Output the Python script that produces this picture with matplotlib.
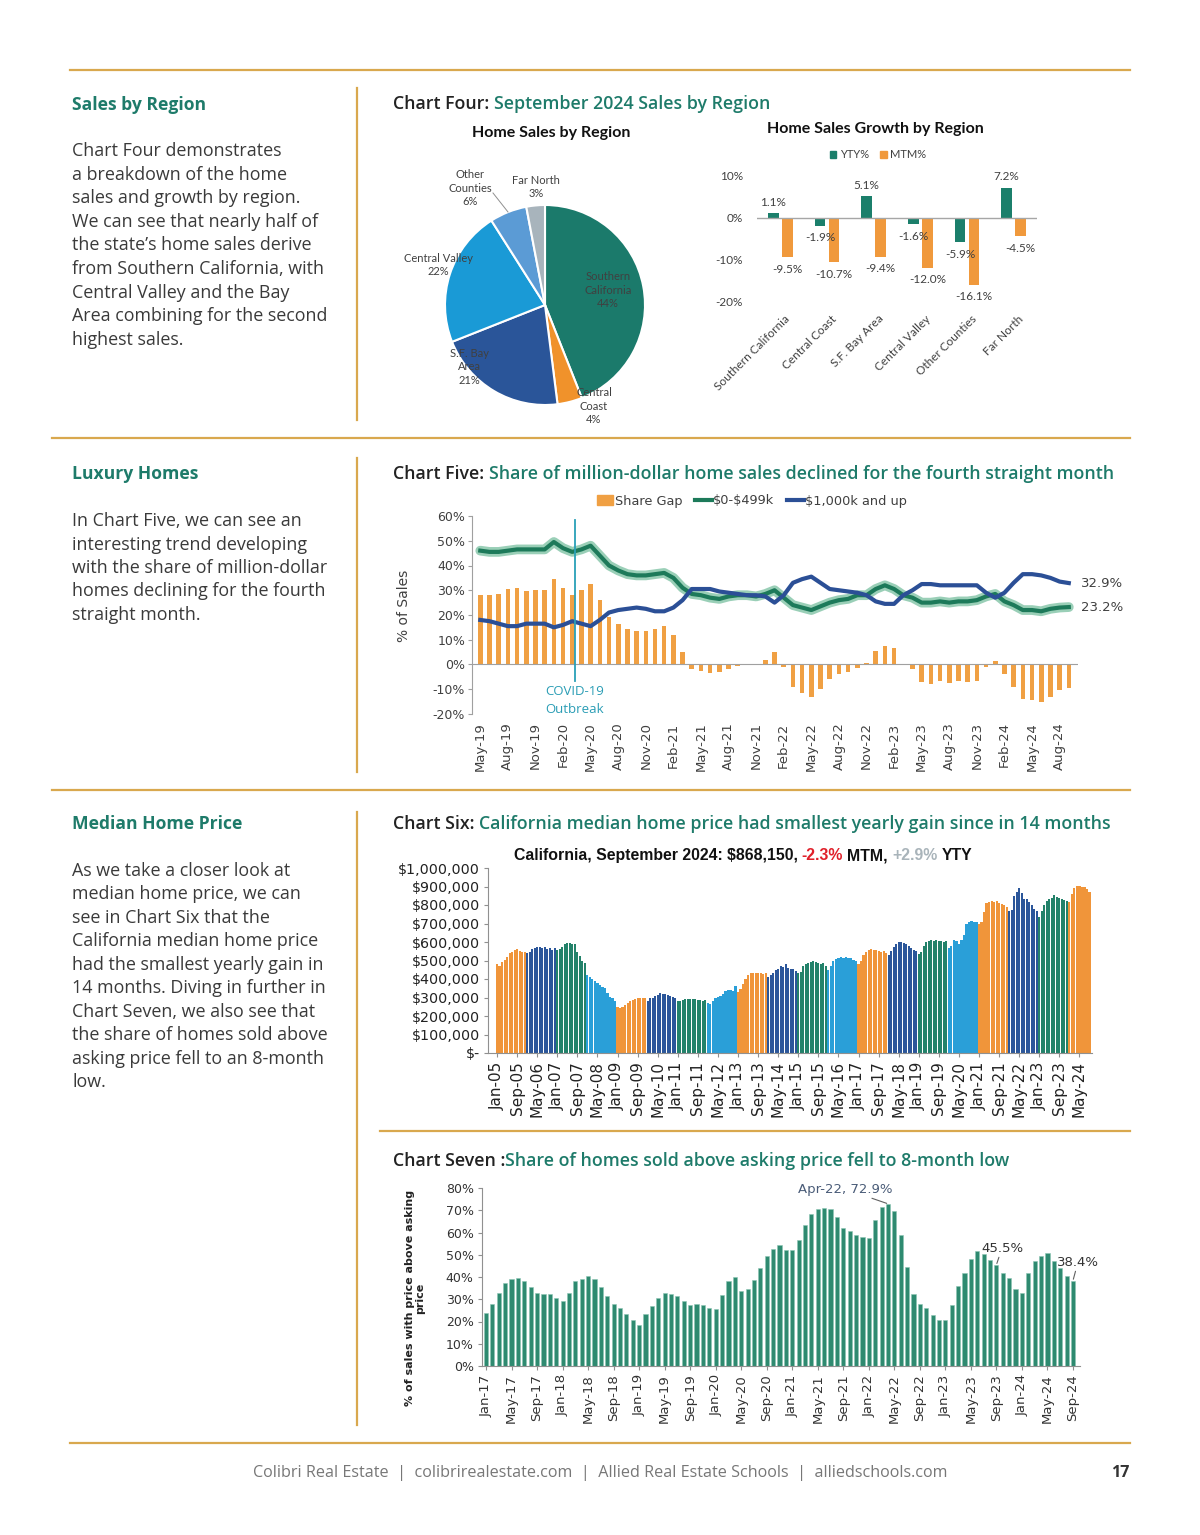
import matplotlib
matplotlib.use('Agg')
import matplotlib.pyplot as plt
import numpy as np
import pandas as pd
from matplotlib.patches import Patch
from matplotlib.lines import Line2D

# ---------------- data ----------------
regions = ['Southern California', 'Central Coast', 'S.F. Bay Area',
           'Central Valley', 'Other Counties', 'Far North']
region_share = [44, 4, 21, 22, 6, 3]
yty_pct = [1.1, -1.9, 5.1, -1.6, -5.9, 7.2]
mtm_pct = [-9.5, -10.7, -9.4, -12.0, -16.1, -4.5]

# chart five, monthly May-19 .. Sep-24
share_gap = [28, 28, 28.5, 30.5, 31, 29.5, 30, 30,
             34.5, 31, 28, 30, 32.5, 26, 19, 16.5, 14.5, 13.5, 13.5, 14.5,
             15.5, 12, 5, -2, -2.5, -3.5, -3, -2, -0.5, 0, -0.3, 2,
             5, -1, -9, -11.5, -13, -10, -6, -4, -3, -1.5, 0.5, 5.5,
             7.5, 6.5, 0, -2, -7, -8, -6.5, -7.5, -6.5, -7, -6.5, -1,
             1.5, -4, -9, -14, -14.5, -15, -13, -10.5, -9.5]
low_tier = [46, 45.5, 45.5, 46, 46.5, 46.5, 46.5, 46.5,
            49.5, 47, 45.5, 46.5, 48, 44, 40, 38, 36.5, 36, 36, 36.5,
            37, 35, 31, 28.5, 28, 27, 26.5, 27.5, 28, 28, 27.5, 28.5,
            30, 27, 24, 23, 22, 23.5, 25, 26, 26.5, 28, 28, 30.5,
            32, 30.5, 28, 27, 25, 25, 25.5, 25, 25.5, 25.5, 26, 27.5,
            28.5, 25.5, 24, 22, 22, 21.5, 22.5, 23, 23.2]
high_tier = [18, 17.5, 16.5, 15.5, 15.5, 16.5, 16.5, 16.5,
             15, 16, 17.5, 16.5, 15.5, 18, 21, 22, 22.5, 23, 22.5, 21.5,
             21.5, 23, 26, 30.5, 30.5, 30.5, 29.5, 29, 28.5, 28, 28, 27.5,
             25, 28, 33, 34.5, 35.5, 33, 30.5, 30, 29.5, 29, 28, 25.5,
             24.5, 24.5, 28, 30, 32.5, 32.5, 32, 32, 32, 32, 32, 29,
             27, 29, 33, 36.5, 36.5, 36, 35, 33.5, 32.9]

# chart six, median price ($k) by year, Jan-05 .. Sep-24
price_k = [
    [480, 470, 490, 505, 520, 540, 545, 555, 560, 550, 545, 548],  # 2005
    [540, 548, 560, 565, 572, 575, 570, 575, 560, 565, 555, 565],  # 2006
    [555, 560, 575, 590, 595, 592, 590, 590, 545, 525, 500, 485],  # 2007
    [420, 410, 400, 390, 380, 370, 355, 350, 325, 305, 295, 280],  # 2008
    [250, 245, 250, 260, 270, 280, 285, 290, 295, 300, 300, 300],  # 2009
    [280, 295, 300, 310, 315, 325, 320, 320, 315, 310, 305, 300],  # 2010
    [280, 280, 288, 290, 292, 292, 290, 290, 285, 285, 280, 285],  # 2011
    [270, 265, 280, 295, 305, 310, 320, 335, 340, 340, 335, 360],  # 2012
    [330, 345, 375, 400, 420, 430, 435, 435, 430, 430, 425, 430],  # 2013
    [410, 420, 435, 450, 455, 470, 465, 480, 460, 455, 455, 445],  # 2014
    [430, 440, 470, 480, 485, 490, 495, 490, 485, 480, 485, 470],  # 2015
    [450, 470, 500, 510, 515, 520, 515, 520, 515, 512, 505, 495],  # 2016
    [480, 500, 530, 545, 555, 560, 558, 555, 550, 548, 550, 540],  # 2017
    [530, 550, 575, 590, 600, 600, 595, 590, 580, 570, 555, 550],  # 2018
    [535, 545, 580, 600, 605, 610, 608, 610, 605, 605, 600, 605],  # 2019
    [570, 580, 610, 605, 590, 610, 640, 700, 710, 715, 710, 710],  # 2020
    [700, 710, 760, 810, 815, 820, 815, 820, 810, 805, 800, 790],  # 2021
    [770, 775, 850, 870, 890, 865, 830, 835, 815, 800, 780, 770],  # 2022
    [735, 770, 800, 820, 835, 840, 855, 845, 840, 835, 825, 820],  # 2023
    [815, 860, 890, 905, 905, 900, 895, 888, 868.15],              # 2024
]
year_color = ['o', 'd', 'g', 'l', 'o', 'd', 'g', 'l', 'o', 'd',
              'g', 'l', 'o', 'd', 'g', 'l', 'o', 'd', 'g', 'o']

# chart seven, Jan-17 .. Sep-24
above_ask = [24, 28, 33, 37.5, 39, 39.5, 38, 35.5, 33, 32.5, 32.5, 30.5,
             29, 33, 38, 39, 40.5, 39, 35.5, 31.5, 28, 26, 23.5, 20.5,
             18.5, 23.5, 27, 30.5, 33, 32.5, 31.5, 29, 27.5, 28, 27.5, 26,
             25.5, 32, 38, 40, 33.5, 34.5, 38.5, 44, 49.5, 52.5, 54.5, 52,
             52, 56.5, 63.5, 68.5, 70.5, 71, 70.5, 67, 62, 60.5, 59, 58,
             57.5, 65.5, 71.5, 72.9, 69.5, 59, 44.5, 32.5, 28, 26, 23, 20.5,
             20.5, 27.5, 36, 42, 48, 51.5, 50.5, 47.5, 45.5, 42, 39.5, 34.5,
             33, 42, 47, 49.5, 51, 47, 44, 40.5, 38.4]

# ---------------- styling ----------------
W, H = 1200, 1535
GOLD = '#D9A84E'
TEAL = '#1E7B6A'
BODY = '#3a3a3a'
col_map = {'o': '#F0953A', 'd': '#2B569A', 'g': '#23826A', 'l': '#2A9FD8'}

fig = plt.figure(figsize=(12, 15.35), dpi=100)
fig.patch.set_facecolor('white')
rend = fig.canvas.get_renderer()


def box(x0, y0, x1, y1):
    return fig.add_axes([x0 / W, 1 - y1 / H, (x1 - x0) / W, (y1 - y0) / H])


def txt(x, y, s, **kw):
    kw.setdefault('va', 'center')
    return fig.text(x / W, 1 - y / H, s, **kw)


def rich(x, y, parts, center=False, size=11, **kw):
    # parts: (text, color, spaces after)
    items = [fig.text(0, 0, s, color=c, va='center', fontsize=size, **kw) for s, c, _ in parts]
    gaps = [g for _, _, g in parts]
    sp = 0.27 * size * 100 / 72
    widths = [t.get_window_extent(rend).width for t in items]
    total = sum(widths) + sp * sum(gaps[:-1])
    if center:
        x = x - total / 2
    for t, w, g in zip(items, widths, gaps):
        t.set_position((x / W, 1 - y / H))
        x += w + sp * g


def hline(y, x0, x1):
    fig.add_artist(Line2D([x0 / W, x1 / W], [1 - y / H, 1 - y / H], transform=fig.transFigure,
                          color=GOLD, lw=1.6))


def vline(x, y0, y1):
    fig.add_artist(Line2D([x / W, x / W], [1 - y0 / H, 1 - y1 / H], transform=fig.transFigure,
                          color=GOLD, lw=1.6))


# page rules
hline(70, 70, 1130)
hline(438, 52, 1130)
hline(790, 52, 1130)
hline(1131, 380, 1130)
hline(1443, 70, 1130)
vline(357, 88, 420)
vline(357, 458, 772)
vline(357, 812, 1425)

# left column
BF = 'Open Sans'


def section(y_head, head, y0, lines, step):
    txt(72, y_head, head, fontsize=12.6, fontweight='bold', color=TEAL, family=BF)
    for i, ln in enumerate(lines):
        txt(72, y0 + i * step, ln, fontsize=12.9, color=BODY, family=BF)


section(105, 'Sales by Region', 151,
        ['Chart Four demonstrates', 'a breakdown of the home', 'sales and growth by region.',
         'We can see that nearly half of', 'the state\u2019s home sales derive',
         'from Southern California, with', 'Central Valley and the Bay',
         'Area combining for the second', 'highest sales.'], 23.6)
section(474, 'Luxury Homes', 521,
        ['In Chart Five, we can see an', 'interesting trend developing',
         'with the share of million-dollar', 'homes declining for the fourth', 'straight month.'], 23.5)
section(824, 'Median Home Price', 871,
        ['As we take a closer look at', 'median home price, we can', 'see in Chart Six that the',
         'California median home price', 'had the smallest yearly gain in',
         '14 months. Diving in further in', 'Chart Seven, we also see that',
         'the share of homes sold above', 'asking price fell to an 8-month', 'low.'], 23.45)

# chart titles
TK = dict(size=12.8, family=BF, fontweight='semibold')
rich(393, 104, [('Chart Four:', '#222222', 1), ('September 2024 Sales by Region', TEAL, 0)], **TK)
rich(393, 474, [('Chart Five:', '#222222', 1),
                ('Share of million-dollar home sales declined for the fourth straight month', TEAL, 0)], **TK)
rich(393, 824, [('Chart Six:', '#222222', 1),
                ('California median home price had smallest yearly gain since in 14 months', TEAL, 0)], **TK)
rich(393, 1161, [('Chart Seven :', '#222222', 0),
                 ('Share of homes sold above asking price fell to 8-month low', TEAL, 0)], **TK)

# ---------------- chart four: pie ----------------
CF = 'Lato'
txt(551, 133, 'Home Sales by Region', ha='center', fontsize=11.5, fontweight='bold', family=CF, color='#111')
axp = box(444, 204, 646, 406)
pie_colors = ['#1B7A6B', '#F0922B', '#2A5599', '#1A9AD6', '#5B9BD5', '#A8B4BC']
axp.pie(region_share, colors=pie_colors, startangle=90, counterclock=False,
        wedgeprops=dict(edgecolor='white', linewidth=1.5))
axp.set_xlim(-1.01, 1.01)
axp.set_ylim(-1.01, 1.01)
axp.set_aspect('equal')
PL = dict(ha='center', fontsize=8, family=CF, color='#404040', linespacing=1.25)
txt(470, 188, 'Other\nCounties\n6%', **PL)
txt(536, 187, 'Far North\n3%', **PL)
txt(438, 265, 'Central Valley\n22%', **PL)
txt(608, 290, 'Southern\nCalifornia\n44%', **PL)
txt(469, 367, 'S.F. Bay\nArea\n21%', **PL)
txt(594, 406, 'Central\nCoast\n4%', **PL)
fig.add_artist(Line2D([493 / W, 508 / W], [1 - 193 / H, 1 - 212 / H], transform=fig.transFigure,
                      color='#909090', lw=0.7))

# ---------------- chart four: bars ----------------
txt(875, 129, 'Home Sales Growth by Region', ha='center', fontsize=11.5, fontweight='bold',
    family=CF, color='#111')
axb = box(757, 176, 1037, 301)
xr = np.arange(len(regions))
axb.bar(xr - 0.15, yty_pct, 0.23, color='#1B7F6B')
axb.bar(xr + 0.15, mtm_pct, 0.23, color='#F0993C')
axb.axhline(0, color='#a6a6a6', lw=1)
axb.set_xlim(-0.5, 5.5)
axb.set_ylim(-20, 10)
for s in axb.spines.values():
    s.set_visible(False)
axb.set_xticks([])
axb.set_yticks([-20, -10, 0, 10])
axb.set_yticklabels(['-20%', '-10%', '0%', '10%'], family=CF, fontsize=8.5, color='#404040')
axb.tick_params(axis='y', length=0, pad=10)
for i in range(len(regions)):
    for xo, v in ((-0.15, yty_pct[i]), (0.15, mtm_pct[i])):
        off = 11 if v > 0 else -12
        axb.annotate(f'{v:.1f}%', (xr[i] + xo, v), xytext=(0, off), textcoords='offset pixels',
                     ha='center', va='center', fontsize=8.5, family=CF, color='#404040')
    axb.text(xr[i] + 0.09, -22.9, regions[i], rotation=45, ha='right', va='top',
             rotation_mode='anchor', fontsize=8.5, family=CF, color='#404040')
fig.legend([Patch(color='#1B7F6B'), Patch(color='#F0993C')], ['YTY%', 'MTM%'],
           loc='center', bbox_to_anchor=(878 / W, 1 - 155 / H), ncol=2, frameon=False,
           prop=dict(family=CF, size=8), handlelength=0.6, handleheight=0.6,
           handletextpad=0.3, columnspacing=1.0, labelcolor='#404040')

# ---------------- chart five ----------------
GF = 'DejaVu Sans'
months5 = pd.date_range('2019-05-01', periods=len(share_gap), freq='MS')
x5 = np.arange(len(share_gap))
ax5 = box(472, 516, 1078, 714)
ax5.bar(x5, share_gap, width=0.5, color='#F0A043')
ax5.plot(x5, low_tier, color='#8fcab0', lw=7, solid_capstyle='round', alpha=0.9)
ax5.plot(x5, low_tier, color='#1D7A5A', lw=3)
ax5.plot(x5, high_tier, color='#2B4F96', lw=3)
ax5.axhline(0, color='#a0a0a0', lw=0.8)
ax5.plot([10.3, 10.3], [58.5, -6.5], color='#2AA0B8', lw=1.3)
ax5.text(10.3, -14.5, 'COVID-19\nOutbreak', ha='center', va='center', color='#2A9DB5',
         fontsize=9.5, family='Open Sans', linespacing=1.5)
ax5.text(65.3, high_tier[-1], f'{high_tier[-1]}%', ha='left', va='center', fontsize=9.5,
         family=GF, color='#404040')
ax5.text(65.3, low_tier[-1], f'{low_tier[-1]}%', ha='left', va='center', fontsize=9.5,
         family=GF, color='#404040')
ax5.set_xlim(-0.9, 65)
ax5.set_ylim(-20, 60)
for s in ('top', 'right', 'bottom'):
    ax5.spines[s].set_visible(False)
ax5.spines['left'].set_color('#a0a0a0')
ax5.set_yticks(range(-20, 61, 10))
ax5.set_yticklabels([f'{v}%' for v in range(-20, 61, 10)], fontsize=9, family=GF, color='#404040')
ax5.tick_params(axis='y', length=3, color='#a0a0a0', pad=2)
ax5.set_xticks(x5[::3])
ax5.set_xticklabels([d.strftime('%b-%y') for d in months5[::3]], rotation=90, fontsize=9.5,
                    family=GF, color='#404040')
ax5.tick_params(axis='x', length=0, pad=6)
txt(404, 606, '% of Sales', rotation=90, ha='center', fontsize=10, family=GF, color='#404040')
fig.legend([Patch(color='#F0A043'), Line2D([], [], color='#1D7A5A', lw=3),
            Line2D([], [], color='#2B4F96', lw=3)],
           ['Share Gap', '\\$0-\\$499k', '\\$1,000k and up'],
           loc='center', bbox_to_anchor=(752 / W, 1 - 501 / H), ncol=3, frameon=False,
           prop=dict(family=GF, size=9.3), handlelength=1.3, handletextpad=0.1,
           columnspacing=1.0, labelcolor='#404040')

# ---------------- chart six ----------------
prices = np.concatenate([np.array(r) for r in price_k]) * 1000
bar_cols = []
for yr, r in enumerate(price_k):
    bar_cols += [col_map[year_color[yr]]] * len(r)
months6 = pd.date_range('2005-01-01', periods=len(prices), freq='MS')
x6 = np.arange(len(prices))
rich(743, 856, [('California, September 2024: \\$868,150,', '#111111', 1), ('-2.3%', '#E0202A', 1),
                ('MTM,', '#111111', 1), ('+2.9%', '#A9B4BA', 1), ('YTY', '#111111', 0)],
     center=True, size=11.4, family='Liberation Sans', fontweight='bold')
ax6 = box(488, 868, 1092, 1053)
ax6.bar(x6, prices, width=0.85, color=bar_cols, linewidth=0)
ax6.set_xlim(-3.6, 237)
ax6.set_ylim(0, 1e6)
for s in ('top', 'right'):
    ax6.spines[s].set_visible(False)
for s in ('left', 'bottom'):
    ax6.spines[s].set_color('#909090')
yt6 = np.arange(0, 1000001, 100000)
ax6.set_yticks(yt6)
ax6.set_yticklabels(['\\$-' if v == 0 else f'\\${v:,.0f}' for v in yt6], fontsize=10.3, family=GF,
                    color='#222')
ax6.set_xticks(x6[::8])
ax6.set_xticklabels([d.strftime('%b-%y') for d in months6[::8]], rotation=90, fontsize=11,
                    family=GF, color='#222')
ax6.tick_params(length=3, color='#909090', pad=3)

# ---------------- chart seven ----------------
months7 = pd.date_range('2017-01-01', periods=len(above_ask), freq='MS')
x7 = np.arange(len(above_ask))
ax7 = box(482, 1188, 1080, 1366)
ax7.bar(x7, above_ask, width=0.65, color='#2E8A70', edgecolor='#8cc5b3', linewidth=0.4)
ax7.set_xlim(-0.63, 93.1)
ax7.set_ylim(0, 80)
for s in ('top', 'right'):
    ax7.spines[s].set_visible(False)
for s in ('left', 'bottom'):
    ax7.spines[s].set_color('#909090')
ax7.set_yticks(range(0, 81, 10))
ax7.set_yticklabels([f'{v}%' for v in range(0, 81, 10)], fontsize=9, family=GF, color='#333')
ax7.set_xticks(x7[::4])
ax7.set_xticklabels([d.strftime('%b-%y') for d in months7[::4]], rotation=90, fontsize=9.5,
                    family=GF, color='#333')
ax7.tick_params(length=3, color='#909090', pad=3)
txt(415, 1298, '% of sales with price above asking\nprice', rotation=90, ha='center',
    fontsize=8, fontweight='bold', family=GF, color='#222', linespacing=1.1)
AP = dict(arrowstyle='-', color='#606060', lw=0.8, shrinkA=0, shrinkB=1)
ax7.annotate('Apr-22, 72.9%', (63, 72.9), xytext=(845 / W, 1 - 1189 / H), textcoords='figure fraction',
             ha='center', va='center', fontsize=9.5, family=GF, color='#4a5c78', arrowprops=AP)
ax7.annotate('45.5%', (80, 45.5), xytext=(1002 / W, 1 - 1248 / H), textcoords='figure fraction',
             ha='center', va='center', fontsize=9.5, family=GF, color='#333', arrowprops=AP)
ax7.annotate('38.4%', (92, 38.4), xytext=(1078 / W, 1 - 1262 / H), textcoords='figure fraction',
             ha='center', va='center', fontsize=9.5, family=GF, color='#333', arrowprops=AP)

# ---------------- footer ----------------
txt(600, 1473, 'Colibri Real Estate  |  colibrirealestate.com  |  Allied Real Estate Schools  |  alliedschools.com',
    ha='center', fontsize=11.6, family=BF, color='#777777')
txt(1120, 1473, '17', ha='center', fontsize=11.5, fontweight='bold', family=BF, color='#333')

fig.savefig('out.png', dpi=100, facecolor='white')
